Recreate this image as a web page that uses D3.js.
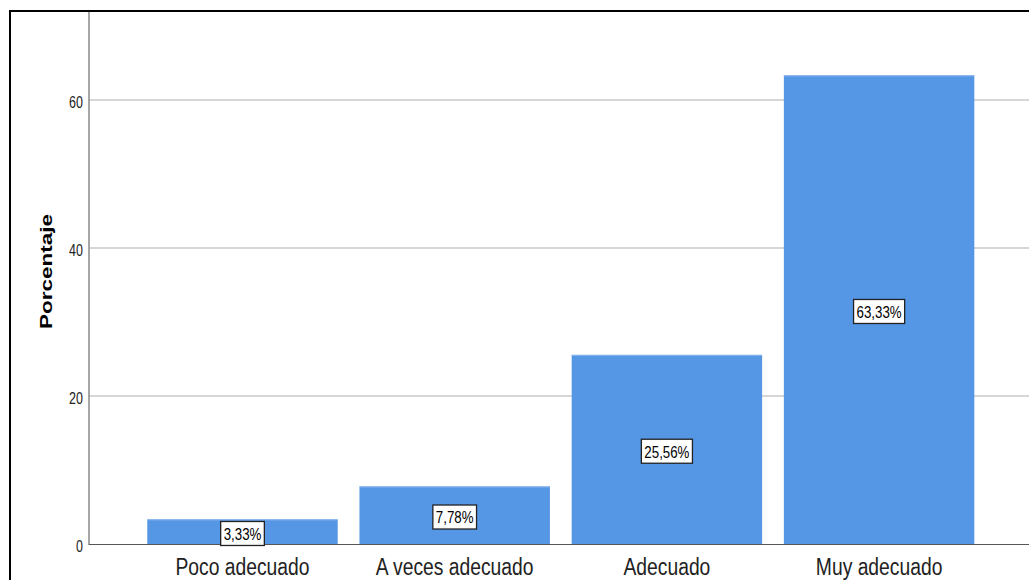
<!DOCTYPE html>
<html><head><meta charset="utf-8">
<script src="https://cdn.jsdelivr.net/npm/d3@7"></script>
<style>body{margin:0;background:#fff}svg{display:block}</style>
</head><body>
<svg id="c" width="1029" height="580"></svg>
<script>
const categories = ["Poco adecuado","A veces adecuado","Adecuado","Muy adecuado"];
const values = [3.33, 7.78, 25.56, 63.33];
const labels = ["3,33%","7,78%","25,56%","63,33%"];
const yTicks = [0,20,40,60];

const FONT = "Liberation Sans, Arial, sans-serif";
const svg = d3.select("#c");
const x = d3.scaleBand().domain(categories).range([136.4, 985.2]).paddingInner(0.1025).paddingOuter(0.05125);
const y = d3.scaleLinear().domain([0,72]).range([544, 11.2]);

// frame
svg.append("rect").attr("x",10).attr("y",11).attr("width",1040).attr("height",600)
  .attr("fill","#fff").attr("stroke","#000").attr("stroke-width",2);

// gridlines
svg.append("g").selectAll("line").data(yTicks.filter(d=>d>0)).join("line")
  .attr("x1",89).attr("x2",1029).attr("y1",d=>y(d)).attr("y2",d=>y(d))
  .attr("stroke","#c8c8c8").attr("stroke-width",1.5);

// bars
svg.append("g").selectAll("rect").data(values).join("rect")
  .attr("x",(d,i)=>x(categories[i])).attr("width",x.bandwidth())
  .attr("y",d=>y(d)).attr("height",d=>y(0)-y(d))
  .attr("fill","#5596e5");
svg.append("g").selectAll("line").data(values).join("line")
  .attr("x1",(d,i)=>x(categories[i])).attr("x2",(d,i)=>x(categories[i])+x.bandwidth())
  .attr("y1",d=>y(d)+0.5).attr("y2",d=>y(d)+0.5).attr("stroke","#8db8ee").attr("stroke-width",1);

// axes lines
svg.append("line").attr("x1",89).attr("x2",89).attr("y1",12).attr("y2",545).attr("stroke","#888").attr("stroke-width",1.5);
svg.append("line").attr("x1",89).attr("x2",1029).attr("y1",544.5).attr("y2",544.5).attr("stroke","#555").attr("stroke-width",1.2);

// y tick labels (text in the reference is vertically stretched)
svg.append("g").selectAll("text").data(yTicks).join("text")
  .attr("transform",d=>`translate(83,${y(d)+8}) scale(1,1.25)`).attr("text-anchor","end")
  .attr("font-family",FONT).attr("font-size",12.5).attr("fill","#222")
  .text(d=>d);

// y title
svg.append("text").attr("transform","translate(52,271.5) scale(1,1.38) rotate(-90)").attr("text-anchor","middle")
  .attr("font-family",FONT).attr("font-size",16.3).attr("font-weight","bold").attr("fill","#000")
  .text("Porcentaje");

// category labels
svg.append("g").selectAll("text").data(categories).join("text")
  .attr("transform",d=>`translate(${x(d)+x.bandwidth()/2},575) scale(1,1.28)`).attr("text-anchor","middle")
  .attr("font-family",FONT).attr("font-size",19.3).attr("fill","#222")
  .text(d=>d);

// value labels
const lg = svg.append("g");
values.forEach((v,i)=>{
  const cx = x(categories[i])+x.bandwidth()/2;
  const cy = (y(v)+y(0))/2 + 1.8;
  const t = lg.append("text").attr("transform",`translate(${cx},${cy+6.3}) scale(1,1.3)`).attr("text-anchor","middle")
    .attr("font-family",FONT).attr("font-size",13.3).attr("fill","#000").text(labels[i]);
  const w = t.node().getComputedTextLength();
  lg.insert("rect","text").attr("x",cx-w/2-3).attr("y",cy-12).attr("width",w+6).attr("height",24)
    .attr("fill","#fff").attr("stroke","#222").attr("stroke-width",1.3);
});
</script>
</body></html>
